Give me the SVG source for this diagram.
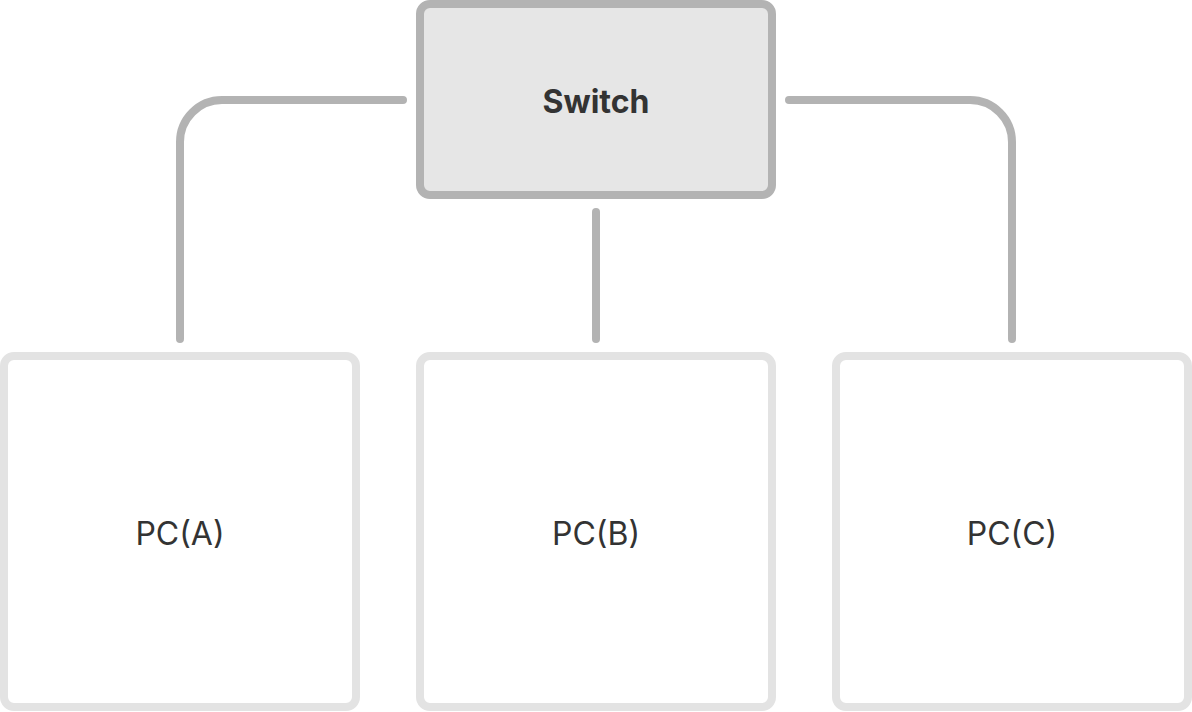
<svg xmlns="http://www.w3.org/2000/svg" width="1192" height="712" viewBox="0 0 1192 712">
<style>
.conn{fill:none;stroke:#b3b3b3;stroke-width:8;stroke-linecap:round}
.sw{fill:#e6e6e6;stroke:#b3b3b3;stroke-width:8}
.pc{fill:#ffffff;stroke:#e3e3e3;stroke-width:8}
.t{font-family:Inter,"Noto Sans",sans-serif;fill:#333333;text-anchor:middle;dominant-baseline:central;font-size:32px}
.b{font-weight:700}
</style>
<rect width="1192" height="712" fill="#ffffff"/>
<g id="connectors">
<path class="conn" d="M403 100 H222 A42 42 0 0 0 180 142 V339"/>
<path class="conn" d="M596 212 V339"/>
<path class="conn" d="M789 100 H970 A42 42 0 0 1 1012 142 V339"/>
</g>
<g id="switch">
<rect class="sw" x="420" y="4" width="352" height="191" rx="10"/>
<text class="t b" x="596" y="101">Switch</text>
</g>
<g id="pcA">
<rect class="pc" x="4" y="356" width="352" height="351" rx="10"/>
<text class="t" x="180" y="533">PC(A)</text>
</g>
<g id="pcB">
<rect class="pc" x="420" y="356" width="352" height="351" rx="10"/>
<text class="t" x="596" y="533">PC(B)</text>
</g>
<g id="pcC">
<rect class="pc" x="836" y="356" width="352" height="351" rx="10"/>
<text class="t" x="1012" y="533">PC(C)</text>
</g>
</svg>
